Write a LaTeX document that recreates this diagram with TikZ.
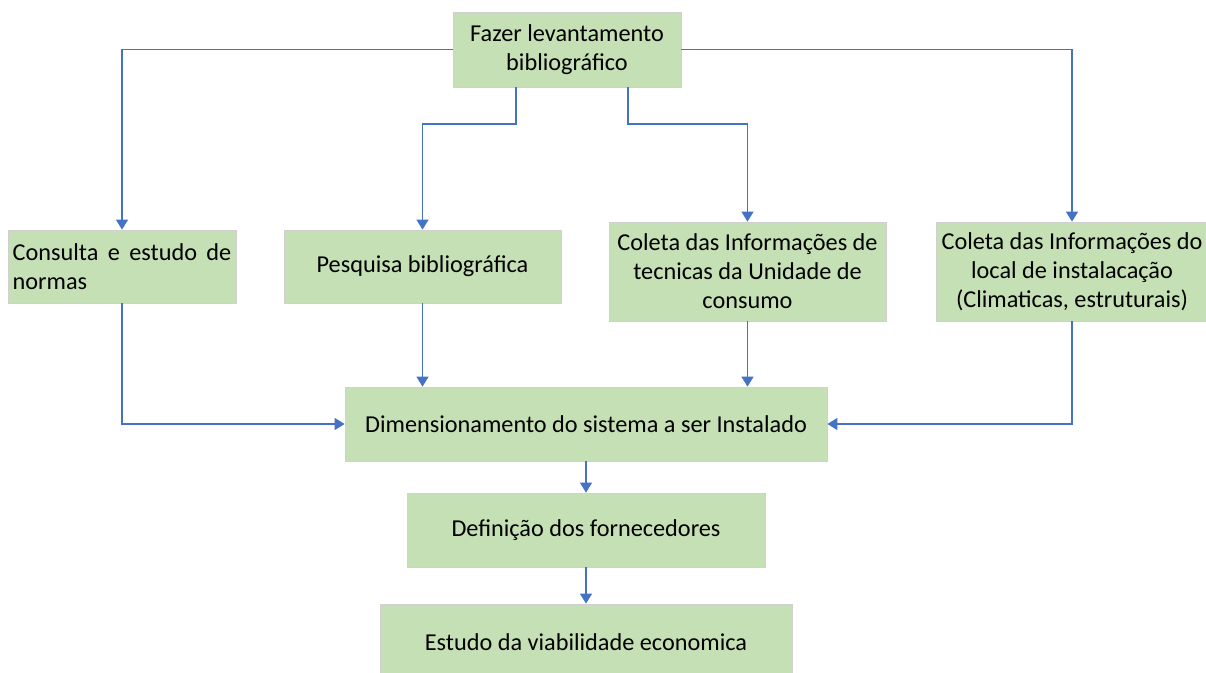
\documentclass[tikz,border=0pt]{standalone}
\usepackage{fontspec}
\setmainfont{Carlito}
\usetikzlibrary{arrows.meta,calc}
\definecolor{boxfill}{HTML}{C5E0B4}
\definecolor{boxline}{HTML}{D0D0D0}
\definecolor{arrblue}{HTML}{4472C4}
\begin{document}
\begin{tikzpicture}[x=0.75pt,y=-0.75pt,
  box/.style={draw=boxline,line width=0.6pt,fill=boxfill,align=center,inner sep=2pt,
    font=\fontsize{18.2}{21.75}\selectfont,text=black},
  arr/.style={draw=arrblue,line width=1pt,-{Triangle[width=9pt,length=7.5pt]}}]
\useasboundingbox (0,0) rectangle (1206,672);
\node[box,minimum width=171pt,minimum height=56.25pt] (top) at (567,49.5) {Fazer levantamento\\bibliográfico};
\node[box,minimum width=171pt,minimum height=54.75pt,align=left] (cons) at (122,266.5) {\hbox to 164pt{Consulta\hfill e\hfill estudo\hfill de}\\normas};
\node[box,minimum width=207.75pt,minimum height=54.75pt] (pesq) at (422.5,266.5) {Pesquisa bibliográfica};
\node[box,minimum width=207.75pt,minimum height=74.25pt] (col1) at (747.5,271.5) {Coleta das Informações de\\tecnicas da Unidade de\\consumo};
\node[box,minimum width=204pt,minimum height=74.25pt] (col2) at (1072,271.5) {Coleta das Informações do\\local de instalacação\\(Climaticas, estruturais)};
\node[box,minimum width=361.5pt,minimum height=55.5pt] (dim) at (586,424) {Dimensionamento do sistema a ser Instalado};
\node[box,minimum width=268.5pt,minimum height=55.5pt] (def) at (586,530) {Definição dos fornecedores};
\node[box,minimum width=309pt,minimum height=57pt] (est) at (586,642) {Estudo da viabilidade economica};
\coordinate (tl) at (516,124);
\coordinate (tr) at (628,124);
\draw[arr] (top.west) -| (cons.north);
\draw[arr] (top.east) -| (col2.north);
\draw[arr] (top.south -| tl) -- (tl) -| (pesq.north);
\draw[arr] (top.south -| tr) -- (tr) -| (col1.north);
\draw[arr] (cons.south) |- (dim.west);
\draw[arr] (col2.south) |- (dim.east);
\draw[arr] (pesq.south) -- (pesq.south |- dim.north);
\draw[arr] (col1.south) -- (col1.south |- dim.north);
\draw[arr] (dim.south) -- (def.north);
\draw[arr] (def.south) -- (est.north);
\end{tikzpicture}
\end{document}
